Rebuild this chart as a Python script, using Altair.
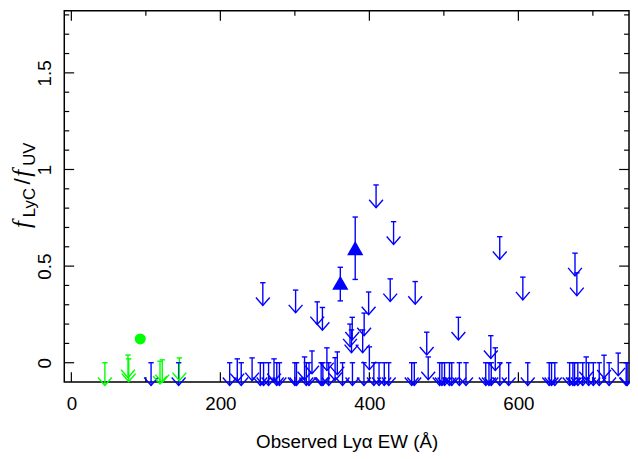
import altair as alt
import pandas as pd

# ---------------- data ----------------
# upper limits (arrows): observed Lya EW and f_LyC/f_UV limit
blue_lim_ew = [257, 301, 330, 337, 374, 377, 376, 391, 393, 399, 409, 428, 432.5, 461.5,
               477, 519.5, 563, 575, 606, 676, 678.5,
               323, 343, 357, 400, 569, 734, 715, 691, 479, 313, 354, 272, 242.6, 222.7,
               107, 144, 212.5, 228, 253.6, 258, 264.7, 275.7, 279.3, 300, 302.2, 315.4,
               319, 335.3, 337.6, 345.5, 364, 377.3, 392.7, 406, 413, 420, 426, 456.8,
               460.3, 494.3, 497.4, 500.9, 507.5, 510.6, 520.8, 529.7, 556.2, 560.5,
               563.6, 575.1, 587, 612.6, 641.4, 644.5, 648.9, 668.8, 673.2, 675.4, 679.8,
               686.4, 694.4, 700.6, 708.5, 721.8, 744.7, 746]
blue_lim_f = [0.414, 0.376, 0.315, 0.286, 0.20, 0.235, 0.17, 0.17, 0.257, 0.366, 0.92, 0.434, 0.73, 0.42,
              0.158, 0.235, 0.14, 0.652, 0.443, 0.567, 0.465,
              0.061, 0.077, 0.056, 0.082, 0.077, 0.05, 0.039, 0.03, 0.03, 0.03, 0.026, 0.02, 0.025, 0.02,
              0, 0, 0, 0, 0, 0, 0, 0, 0, 0, 0, 0,
              0, 0, 0, 0, 0, 0, 0, 0, 0, 0, 0, 0,
              0, 0, 0, 0, 0, 0, 0, 0, 0, 0,
              0, 0, 0, 0, 0, 0, 0, 0, 0, 0, 0,
              0, 0, 0, 0, 0, 0, 0]
green_lim_ew = [45, 76, 77, 119, 122, 145]
green_lim_f = [0.0, 0.04, 0.02, 0.008, 0.015, 0.025]

# detections
blue_det_ew = [361, 381]
blue_det_f = [0.414, 0.593]
blue_det_lo = [0.32, 0.431]
blue_det_hi = [0.494, 0.754]
green_det_ew = [92.5]
green_det_f = [0.123]
green_det_lo = [0.106]
green_det_hi = [0.140]

# axis ticks
x_major = [0, 200, 400, 600]
x_minor = [100, 300, 500, 700]
y_major = [0, 0.5, 1, 1.5]
y_minor = [0.1, 0.2, 0.3, 0.4, 0.6, 0.7, 0.8, 0.9, 1.1, 1.2, 1.3, 1.4, 1.6, 1.7, 1.8]

# ---------------- tables ----------------
lim = pd.DataFrame({
    "ew": blue_lim_ew + green_lim_ew,
    "f": blue_lim_f + green_lim_f,
    "grp": ["blue"] * len(blue_lim_ew) + ["green"] * len(green_lim_ew),
})
det = pd.DataFrame({
    "ew": blue_det_ew + green_det_ew,
    "f": blue_det_f + green_det_f,
    "lo": blue_det_lo + green_det_lo,
    "hi": blue_det_hi + green_det_hi,
    "grp": ["blue"] * len(blue_det_ew) + ["green"] * len(green_det_ew),
})

W, H = 572, 376
FONT = "Liberation Sans"
xs = alt.Scale(domain=[-9.5, 748.5], nice=False, zero=False)
ys = alt.Scale(domain=[-0.1, 1.821], nice=False, zero=False)
xaxis = alt.Axis(values=x_major, format="d", ticks=False, domain=False, grid=False,
                 labelFont=FONT, labelFontSize=19, labelColor="black", labelPadding=13,
                 title="Observed Lyα EW (Å)", titleFont=FONT, titleFontSize=19,
                 titleFontWeight="normal", titleColor="black", titleY=66,
                 titleBaseline="alphabetic")
yaxis = alt.Axis(values=y_major, labelExpr="datum.value + ''", ticks=False, domain=False,
                 grid=False, labelFont=FONT, labelFontSize=19, labelColor="black",
                 labelAngle=270, labelAlign="center", labelBaseline="bottom",
                 labelPadding=10, title=None)
cscale = alt.Scale(domain=["blue", "green"], range=["#0000ff", "#00ff00"])


def X(field="ew"):
    return alt.X(f"{field}:Q", scale=xs, axis=xaxis)


def Y(field="f"):
    return alt.Y(f"{field}:Q", scale=ys, axis=yaxis)


C = alt.Color("grp:N", scale=cscale, legend=None)

layers = []

# inward ticks on all four sides
for vals, ln in ((y_major, 10), (y_minor, 5)):
    d = pd.DataFrame({"f": vals})
    layers.append(alt.Chart(d).mark_rule(color="black", strokeWidth=1.2).encode(
        y=Y(), x=alt.value(0), x2=alt.value(ln)))
    layers.append(alt.Chart(d).mark_rule(color="black", strokeWidth=1.2).encode(
        y=Y(), x=alt.value(W - ln), x2=alt.value(W)))
for vals, ln in ((x_major, 10), (x_minor, 5)):
    d = pd.DataFrame({"ew": vals})
    layers.append(alt.Chart(d).mark_rule(color="black", strokeWidth=1.2).encode(
        x=X(), y=alt.value(H - ln), y2=alt.value(H)))
    layers.append(alt.Chart(d).mark_rule(color="black", strokeWidth=1.2).encode(
        x=X(), y=alt.value(0), y2=alt.value(ln)))

# upper limit arrows
base = alt.Chart(lim).transform_calculate(tip="datum.f - 0.1175")
layers.append(base.mark_rule(strokeWidth=1.4).encode(x=X(), y=Y(), y2="tip:Q", color=C))
layers.append(base.mark_point(shape="M-1,0L1,0", size=30, filled=False, strokeWidth=1.4,
                              opacity=1).encode(x=X(), y=Y(), color=C))
layers.append(base.mark_point(shape="M-1,-1.15L0,0L1,-1.15", size=196, filled=False,
                              strokeWidth=1.4, opacity=1).encode(x=X(), y=Y("tip"), color=C))

# detections with error bars
dch = alt.Chart(det)
layers.append(dch.mark_rule(strokeWidth=1.4).encode(x=X(), y=Y("lo"), y2="hi:Q", color=C))
layers.append(dch.mark_point(shape="M-1,0L1,0", size=30, filled=False, strokeWidth=1.4,
                             opacity=1).encode(x=X(), y=Y("lo"), color=C))
layers.append(dch.mark_point(shape="M-1,0L1,0", size=30, filled=False, strokeWidth=1.4,
                             opacity=1).encode(x=X(), y=Y("hi"), color=C))
layers.append(dch.transform_filter("datum.grp == 'blue'").mark_point(
    shape="triangle-up", filled=True, size=270, opacity=1).encode(x=X(), y=Y(), color=C))
layers.append(dch.transform_filter("datum.grp == 'green'").mark_point(
    shape="circle", filled=True, size=125, opacity=1).encode(x=X(), y=Y(), color=C))

# y-axis title f_LyC / f_UV built from pieces
one = pd.DataFrame({"k": [0]})
pieces = [
    ("f", "Liberation Serif", 25, "italic", -35, 220),
    ("LyC", FONT, 17, "normal", -30, 209),
    ("/", FONT, 23, "normal", -35, 176),
    ("f", "Liberation Serif", 25, "italic", -35, 168),
    ("UV", FONT, 17, "normal", -30, 157),
]
for txt, fnt, fs, sty, px, py in pieces:
    layers.append(alt.Chart(one).mark_text(
        text=txt, font=fnt, fontSize=fs, fontStyle=sty, angle=270, align="left",
        baseline="alphabetic", color="black").encode(x=alt.value(px), y=alt.value(py)))

chart = alt.layer(*layers).properties(
    width=W, height=H,
    autosize=alt.AutoSizeParams(type="none"),
    padding={"left": 57, "top": 0, "right": 1, "bottom": 70},
).configure_view(stroke="black", strokeWidth=1.5)

chart.save("out.html", embed_options={"renderer": "svg", "actions": False})
